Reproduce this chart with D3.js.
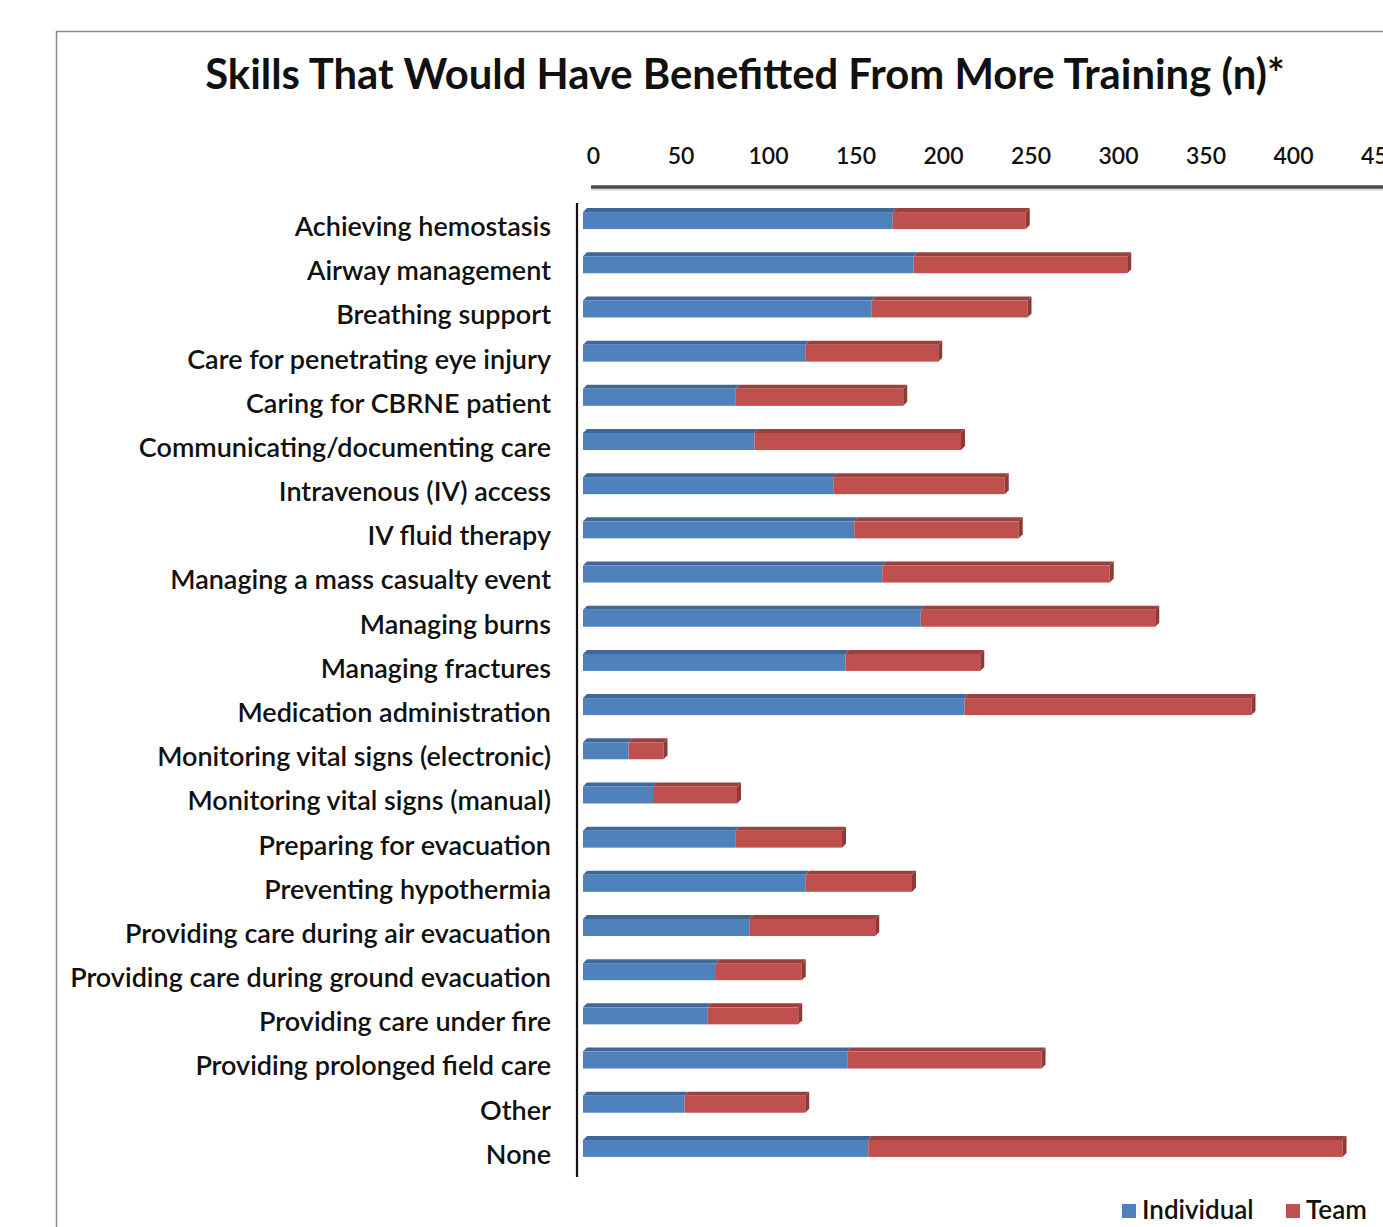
<!DOCTYPE html>
<html>
<head>
<meta charset="utf-8">
<script src="https://cdn.jsdelivr.net/npm/d3@7"></script>
<style>
  html, body { margin: 0; padding: 0; background: #fff; }
  svg { display: block; }
  text { font-family: Lato, "Open Sans", sans-serif; fill: #111; }
</style>
</head>
<body>
<svg id="chart" width="1383" height="1227"></svg>
<script>
const categories = [
  "Achieving hemostasis",
  "Airway management",
  "Breathing support",
  "Care for penetrating eye injury",
  "Caring for CBRNE patient",
  "Communicating/documenting care",
  "Intravenous (IV) access",
  "IV fluid therapy",
  "Managing a mass casualty event",
  "Managing burns",
  "Managing fractures",
  "Medication administration",
  "Monitoring vital signs (electronic)",
  "Monitoring vital signs (manual)",
  "Preparing for evacuation",
  "Preventing hypothermia",
  "Providing care during air evacuation",
  "Providing care during ground evacuation",
  "Providing care under fire",
  "Providing prolonged field care",
  "Other",
  "None"
];
const individual = [177, 189, 165, 127, 87, 98, 143, 155, 171, 193, 150, 218, 26, 40, 87, 127, 95, 76, 71, 151, 58, 163];
const team       = [ 76, 122,  89,  76, 96, 118, 98,  94, 130, 134, 77, 164, 20, 48, 61, 61, 72, 49, 52, 111, 69, 271];
const seriesNames = ["Individual", "Team"];
const tickValues = [0, 50, 100, 150, 200, 250, 300, 350, 400, 450];
const title = "Skills That Would Have Benefitted From More Training (n)*";

const colors = { Individual: "#4F81BD", Team: "#C0504D" };
const topColors = { Individual: "#3F6797", Team: "#9A403D" };
const sideColor = "#8E3B38";
const textWeight = 600;

const svg = d3.select("#chart");

// frame
svg.append("rect")
  .attr("x", 56.5).attr("y", 31.5)
  .attr("width", 1400).attr("height", 1300)
  .attr("fill", "none").attr("stroke", "#8a8a8a").attr("stroke-width", 1.5);

// title
const t = svg.append("text")
  .attr("x", 745).attr("y", 78)
  .attr("text-anchor", "middle").attr("dominant-baseline", "middle")
  .attr("font-weight", 700).attr("font-size", 36)
  .text(title);
const tw = t.node().getComputedTextLength();
t.attr("font-size", 36 * 1080 / tw);

const x = d3.scaleLinear().domain([0, 450]).range([583, 583 + 450 * 1.75]);
const y = d3.scaleBand().domain(categories).range([198, 1170]).paddingInner(0).paddingOuter(0);

// top axis line (floor edge)
svg.append("line")
  .attr("x1", 591).attr("x2", 1383).attr("y1", 187).attr("y2", 187)
  .attr("stroke", "#4a4a4a").attr("stroke-width", 3.5);
svg.append("line")
  .attr("x1", 591).attr("x2", 1383).attr("y1", 190).attr("y2", 190)
  .attr("stroke", "#bbbbbb").attr("stroke-width", 1.2);

// tick labels
const tickAxis = d3.axisTop(x).tickValues(tickValues).tickSize(0).tickPadding(0);
const gAxis = svg.append("g").attr("transform", "translate(10,158)").call(tickAxis);
gAxis.select(".domain").remove();
gAxis.selectAll("text")
  .attr("font-size", 23).attr("dy", null).attr("y", 0)
  .attr("dominant-baseline", "middle").attr("font-weight", textWeight)
  .style("font-family", "Lato, 'Open Sans', sans-serif").attr("fill", "#111");

// vertical axis line
svg.append("line")
  .attr("x1", 577).attr("x2", 577).attr("y1", 203).attr("y2", 1177)
  .attr("stroke", "#111").attr("stroke-width", 2.2);

// category labels
const labels = svg.append("g").selectAll("text").data(categories).join("text")
  .attr("x", 551)
  .attr("y", d => y(d) + y.bandwidth() / 2 + 9)
  .attr("text-anchor", "end").attr("dominant-baseline", "middle")
  .attr("font-size", 24).attr("font-weight", textWeight)
  .text(d => d);
let maxW = 0;
labels.each(function() { maxW = Math.max(maxW, this.getComputedTextLength()); });
labels.attr("font-size", 24 * 481 / maxW);

// bars
const rows = categories.map((c, i) => ({ cat: c, Individual: individual[i], Team: team[i] }));
const stack = d3.stack().keys(seriesNames)(rows);
const depth = 4;
const gBars = svg.append("g");
stack.forEach(layer => {
  const key = layer.key;
  layer.forEach(seg => {
    const cat = seg.data.cat;
    const c = y(cat) + y.bandwidth() / 2;
    const x0 = x(seg[0]), x1 = x(seg[1]);
    const yTop = c - 8, yBot = c + 9;
    gBars.append("path")
      .attr("d", `M${x0},${yTop} L${x0 + depth},${yTop - depth} L${x1 + depth},${yTop - depth} L${x1},${yTop} Z`)
      .attr("fill", topColors[key]);
    gBars.append("rect")
      .attr("x", x0).attr("y", yTop).attr("width", x1 - x0).attr("height", yBot - yTop)
      .attr("fill", colors[key]);
    if (key === "Team") {
      gBars.append("path")
        .attr("d", `M${x1},${yTop} L${x1 + depth},${yTop - depth} L${x1 + depth},${yBot - depth} L${x1},${yBot} Z`)
        .attr("fill", sideColor);
    }
  });
});

// legend
const legend = svg.append("g");
const legendItems = [
  { name: "Individual", sx: 1122, tx: 1142 },
  { name: "Team", sx: 1286, tx: 1306 }
];
legendItems.forEach(it => {
  legend.append("rect").attr("x", it.sx).attr("y", 1204).attr("width", 14).attr("height", 14)
    .attr("fill", colors[it.name]);
  legend.append("text").attr("x", it.tx).attr("y", 1212)
    .attr("dominant-baseline", "middle").attr("font-size", 26).attr("font-weight", textWeight)
    .text(it.name);
});
</script>
</body>
</html>
